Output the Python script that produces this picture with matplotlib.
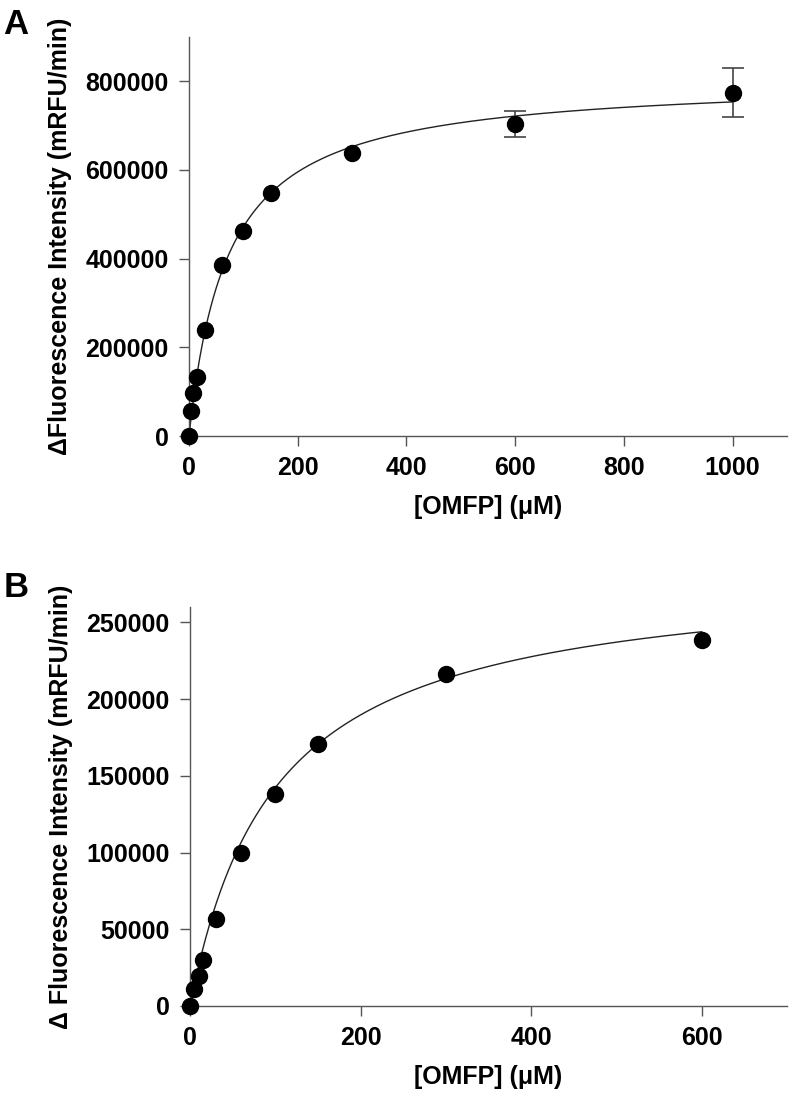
import numpy as np
import matplotlib
matplotlib.use('Agg')
from matplotlib import pyplot as plt

plt.rcParams['font.family'] = ['Liberation Sans', 'DejaVu Sans']
plt.rcParams['font.weight'] = 'bold'

# panel A
omfp_a = [0, 3.75, 7.5, 15, 30, 60, 100, 150, 300, 600, 1000]
rate_a = [0, 57000, 96000, 133000, 240000, 386000, 463000, 547000, 639000, 704000, 774000]
err_a = [0, 0, 0, 0, 0, 0, 0, 0, 0, 29000, 55000]
vmax_a = 807000   # fitted Michaelis-Menten
km_a = 71

# panel B
omfp_b = [0, 5, 10, 15, 30, 60, 100, 150, 300, 600]
rate_b = [0, 11000, 19500, 30000, 56500, 100000, 138000, 171000, 216500, 238500]
vmax_b = 284500
km_b = 100

xlabel = '[OMFP] (\u03bcM)'
ylabel_a = '\u0394Fluorescence Intensity (mRFU/min)'
ylabel_b = '\u0394 Fluorescence Intensity (mRFU/min)'

spine_col = '#555555'


def style_axes(ax, xlim, ylim, xticks, yticks):
    ax.set_xlim(xlim)
    ax.set_ylim(ylim)
    ax.set_xticks(xticks)
    ax.set_yticks(yticks)
    ax.spines['top'].set_visible(False)
    ax.spines['right'].set_visible(False)
    for s in ['left', 'bottom']:
        ax.spines[s].set_color(spine_col)
        ax.spines[s].set_linewidth(1.0)
    ax.tick_params(direction='out', length=7.5, width=1.0, color=spine_col,
                   labelsize=18, pad=7)
    for lab in ax.get_xticklabels() + ax.get_yticklabels():
        lab.set_fontweight('bold')


def mm(x, vmax, km):
    return vmax * x / (km + x)


fig = plt.figure(figsize=(7.92, 11), dpi=100)

# ---- A ----
axA = fig.add_axes([0.2386, 0.6036, 0.755, 0.3628])
xc = np.linspace(0, max(omfp_a), 400)
axA.plot(xc, mm(xc, vmax_a, km_a), color='#222222', lw=1.0, zorder=2)
axA.plot(omfp_a, rate_a, 'o', color='black', ms=11.5, clip_on=False, zorder=3)
ex = [x for x, e in zip(omfp_a, err_a) if e > 0]
ey = [y for y, e in zip(rate_a, err_a) if e > 0]
ee = [e for e in err_a if e > 0]
axA.errorbar(ex, ey, yerr=ee, fmt='none', ecolor='#444444', elinewidth=1.2,
             capsize=8, capthick=1.2, zorder=2.5)
style_axes(axA, (0, 1100), (0, 900000), [0, 200, 400, 600, 800, 1000],
           [0, 200000, 400000, 600000, 800000])
axA.set_xlabel(xlabel, fontsize=18, fontweight='bold', labelpad=11)
axA.set_ylabel(ylabel_a, fontsize=18, fontweight='bold', labelpad=10)
fig.text(0.004, 0.993, 'A', fontsize=25, fontweight='bold', va='top', ha='left')

# ---- B ----
axB = fig.add_axes([0.2399, 0.0855, 0.7538, 0.3627])
xc = np.linspace(0, max(omfp_b), 400)
axB.plot(xc, mm(xc, vmax_b, km_b), color='#222222', lw=1.0, zorder=2)
axB.plot(omfp_b, rate_b, 'o', color='black', ms=11.5, clip_on=False, zorder=3)
style_axes(axB, (0, 700), (0, 260000), [0, 200, 400, 600],
           [0, 50000, 100000, 150000, 200000, 250000])
axB.set_xlabel(xlabel, fontsize=18, fontweight='bold', labelpad=11)
axB.set_ylabel(ylabel_b, fontsize=18, fontweight='bold', labelpad=10)
fig.text(0.004, 0.481, 'B', fontsize=25, fontweight='bold', va='top', ha='left')

fig.savefig('out.png', dpi=100)
